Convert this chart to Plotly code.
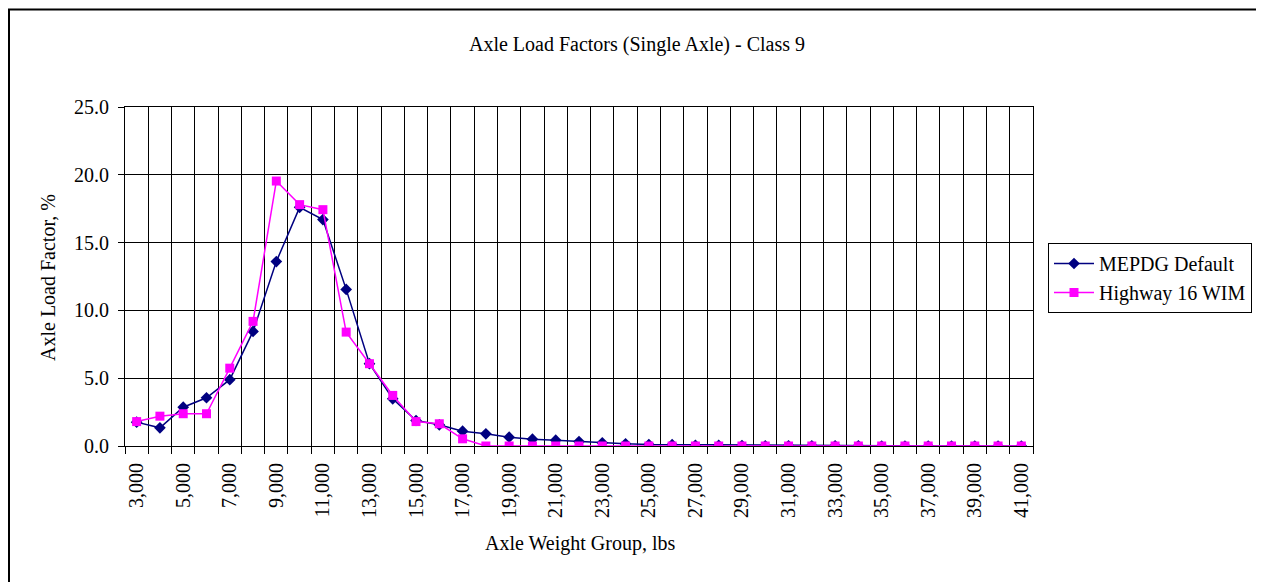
import plotly.graph_objects as go

# ---- data ----
weights = [3000, 4000, 5000, 6000, 7000, 8000, 9000, 10000, 11000, 12000,
           13000, 14000, 15000, 16000, 17000, 18000, 19000, 20000, 21000, 22000,
           23000, 24000, 25000, 26000, 27000, 28000, 29000, 30000, 31000, 32000,
           33000, 34000, 35000, 36000, 37000, 38000, 39000, 40000, 41000]

mepdg_default = [1.76, 1.34, 2.86, 3.56, 4.89, 8.45, 13.6, 17.6, 16.7, 11.55,
                 6.07, 3.48, 1.88, 1.56, 1.09, 0.9, 0.65, 0.5, 0.43, 0.33,
                 0.24, 0.16, 0.11, 0.1, 0.05, 0.04, 0.03, 0.02, 0.02, 0.01,
                 0.01, 0.01, 0.0, 0.0, 0.0, 0.0, 0.0, 0.0, 0.0]

highway16_wim = [1.8, 2.2, 2.38, 2.38, 5.74, 9.19, 19.54, 17.8, 17.43, 8.4,
                 6.07, 3.73, 1.8, 1.64, 0.53, 0.0, 0.0, 0.0, 0.0, 0.0,
                 0.0, 0.0, 0.0, 0.0, 0.0, 0.0, 0.0, 0.0, 0.0, 0.0,
                 0.0, 0.0, 0.0, 0.0, 0.0, 0.0, 0.0, 0.0, 0.0]

label_vals = [3000, 5000, 7000, 9000, 11000, 13000, 15000, 17000, 19000, 21000,
              23000, 25000, 27000, 29000, 31000, 33000, 35000, 37000, 39000, 41000]
label_text = ["3,000", "5,000", "7,000", "9,000", "11,000", "13,000", "15,000",
              "17,000", "19,000", "21,000", "23,000", "25,000", "27,000", "29,000",
              "31,000", "33,000", "35,000", "37,000", "39,000", "41,000"]

FONT = "Liberation Serif, Times New Roman, serif"

fig = go.Figure()
fig.add_trace(go.Scatter(
    x=weights, y=mepdg_default, name="MEPDG Default", mode="lines+markers",
    line=dict(color="#000080", width=1.5),
    marker=dict(symbol="diamond", size=9, color="#000080"),
))
fig.add_trace(go.Scatter(
    x=weights, y=highway16_wim, name="Highway 16 WIM", mode="lines+markers",
    line=dict(color="#FF00FF", width=1.5),
    marker=dict(symbol="square", size=9, color="#FF00FF"),
))

boundaries = [weights[0] - 500 + 1000 * i for i in range(len(weights) + 1)]

# the page body has an 8px margin; work in window pixels and shift
OFF = 8
W, H = 1264 - OFF, 582 - OFF
L, R, T, B = 125 - OFF, 1033 - OFF, 107 - OFF, 446 - OFF
pw, ph = R - L, B - T

def px(x):
    return (x - OFF - L) / pw

def py(y):
    return (B - (y - OFF)) / ph

fig.update_layout(
    width=W, height=H,
    margin=dict(l=L, r=W - R, t=T, b=H - B, pad=0),
    paper_bgcolor="white", plot_bgcolor="white",
    font=dict(family=FONT, size=20, color="black"),
    title=dict(text="Axle Load Factors (Single Axle) - Class 9",
               xref="container", yref="container",
               x=(637 - OFF) / W, y=1 - (44 - OFF) / H,
               xanchor="center", yanchor="middle",
               font=dict(family=FONT, size=20, color="black")),
    showlegend=True,
    legend=dict(x=px(1048), y=py(243), xanchor="left", yanchor="top",
                bordercolor="black", borderwidth=1, bgcolor="white",
                font=dict(family=FONT, size=20, color="black"),
                itemwidth=40, tracegroupgap=0),
    xaxis=dict(
        range=[boundaries[0], boundaries[-1]],
        tickmode="array", tickvals=label_vals, ticktext=label_text,
        tickangle=-90, ticks="", showgrid=False, zeroline=False,
        showline=True, linecolor="black", linewidth=1, mirror=True,
        ticklabelstandoff=8,
        tickfont=dict(family=FONT, size=20, color="black"),
        minor=dict(tickmode="array", tickvals=boundaries, ticks="outside",
                   ticklen=7, tickcolor="black", showgrid=True,
                   gridcolor="black", gridwidth=1),
    ),
    yaxis=dict(
        range=[0, 25], tickmode="linear", tick0=0, dtick=5, tickformat=".1f",
        ticks="outside", ticklen=6, tickcolor="black",
        showgrid=True, gridcolor="black", gridwidth=1, zeroline=False,
        showline=True, linecolor="black", linewidth=1, mirror=True,
        ticklabelstandoff=5,
        tickfont=dict(family=FONT, size=20, color="black"),
    ),
    annotations=[
        dict(text="Axle Weight Group, lbs", xref="paper", yref="paper",
             x=px(580), y=py(543), xanchor="center", yanchor="middle",
             showarrow=False, font=dict(family=FONT, size=20, color="black")),
        dict(text="Axle Load Factor, %", xref="paper", yref="paper",
             x=px(48), y=py(278), xanchor="center", yanchor="middle",
             textangle=-90, showarrow=False,
             font=dict(family=FONT, size=20, color="black")),
    ],
    shapes=[
        dict(type="rect", xref="paper", yref="paper",
             x0=px(9), x1=px(1262), y0=py(600), y1=py(9.5),
             line=dict(color="black", width=2), fillcolor="rgba(0,0,0,0)",
             layer="below"),
    ],
)

fig.write_html("out.html")
